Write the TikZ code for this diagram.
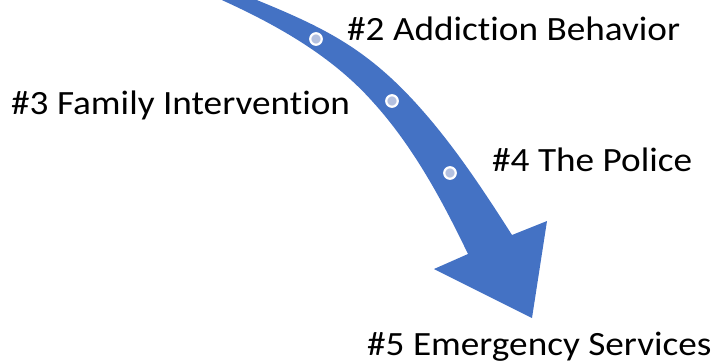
\documentclass[tikz,border=0pt]{standalone}
\usepackage{fontspec}
\setmainfont{Carlito}[Ligatures=NoCommon]
\definecolor{arrowblue}{HTML}{4472C4}
\definecolor{dotfill}{HTML}{B4C1E0}
\tikzset{
  lbl/.style={anchor=base west, inner sep=0pt, font=\fontsize{34}{40}\selectfont, text=black},
  stopdot/.style={circle, draw=white, line width=2.2pt, fill=dotfill, minimum size=11.5pt, inner sep=0pt},
}
\newcommand{\wide}[1]{\scalebox{1.095}[1]{#1}}
\begin{document}
\begin{tikzpicture}[x=1pt,y=-1pt]
\useasboundingbox (0,0) rectangle (715,362);
\begin{scope}
\clip (0,0) rectangle (715,362);
\fill[arrowblue]
  (242,-6) .. controls (316,24) and (360,43) .. (413,100)
  .. controls (451,141) and (482,188) .. (512,235)
  -- (547,221) -- (532,318) -- (434,269) -- (468,254)
  .. controls (442,200) and (413,146) .. (372,101)
  .. controls (328,52) and (268,20) .. (206,-7)
  -- cycle;
\end{scope}
\node[stopdot] (d1) at (316,39) {};
\node[stopdot] (d2) at (392,101) {};
\node[stopdot] (d3) at (450,173) {};
\node[lbl] (l2) at (347,40) {\wide{\#2 Addiction Behavior}};
\node[lbl] (l3) at (11,114) {\wide{\#3 Family Intervention}};
\node[lbl] (l4) at (492,171) {\wide{\#4 The Police}};
\node[lbl] (l5) at (367,355) {\wide{\#5 Emergency Services}};
\end{tikzpicture}
\end{document}
